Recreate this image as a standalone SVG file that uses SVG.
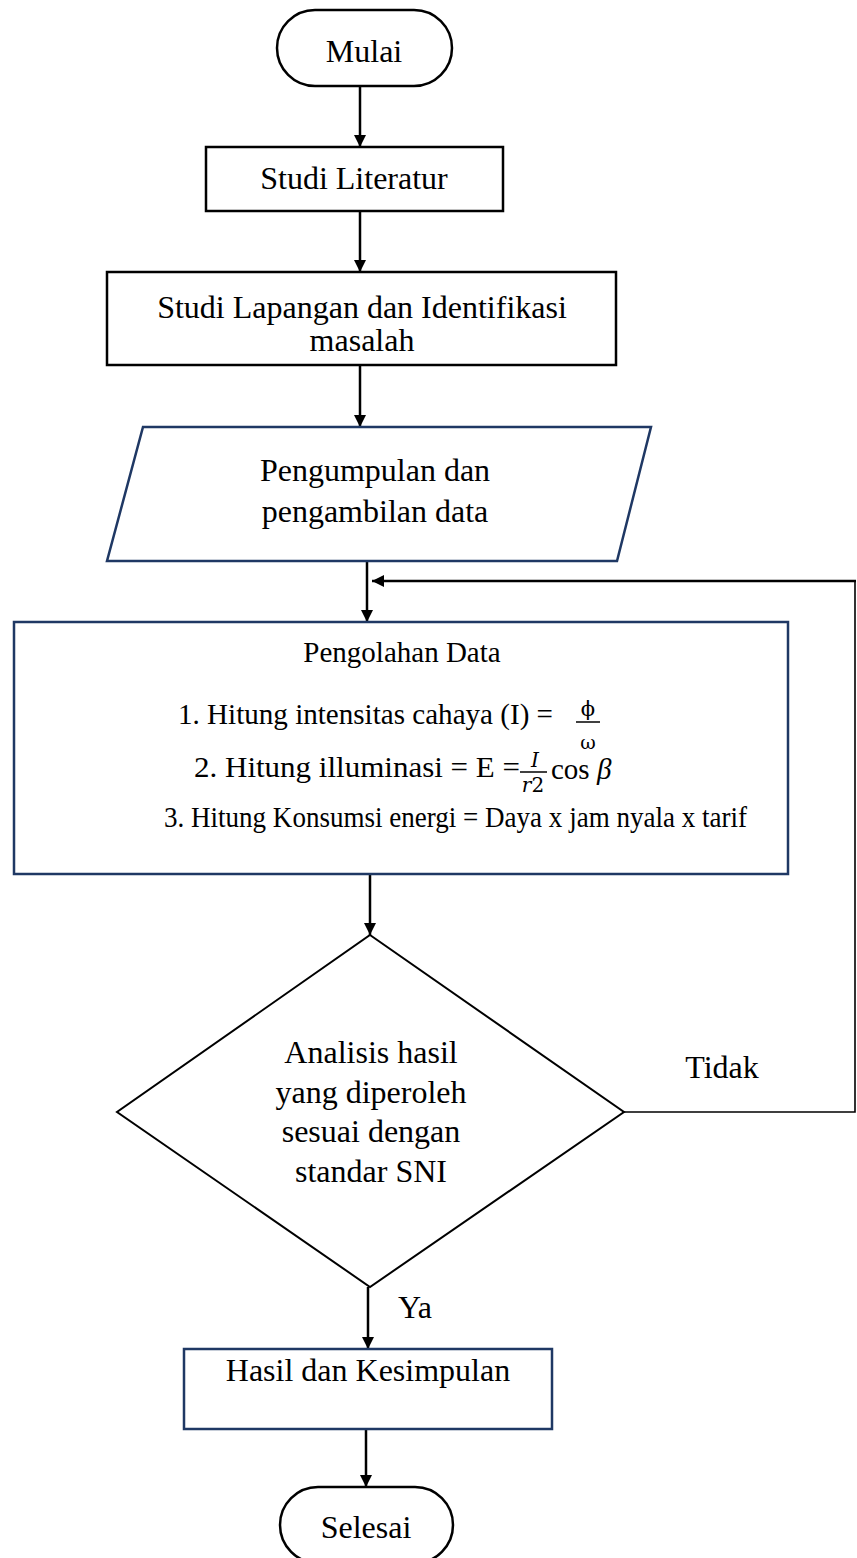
<svg xmlns="http://www.w3.org/2000/svg" width="857" height="1558" viewBox="0 0 857 1558">
<defs>
<marker id="arr" viewBox="0 0 10 10" refX="10" refY="5" markerWidth="12" markerHeight="13" markerUnits="userSpaceOnUse" orient="auto">
<path d="M0,0 L10,5 L0,10 z" fill="#000"/>
</marker>
<style>
.t{font-family:"Liberation Serif","Times New Roman",serif;font-size:32px;fill:#000;text-anchor:middle}
.s{font-family:"Liberation Serif","Times New Roman",serif;font-size:29px;fill:#000}
.m{font-family:"DejaVu Serif","Liberation Serif",serif;fill:#000}
.blk{fill:#fff;stroke:#000;stroke-width:2.5}
.nav{fill:#fff;stroke:#1F3864;stroke-width:2.5}
.c{fill:none;stroke:#000;stroke-width:2.5}
.thin{fill:none;stroke:#000;stroke-width:1.6}
</style>
</defs>
<rect width="857" height="1558" fill="#fff"/>
<g id="connectors">
<line class="c" x1="360" y1="86" x2="360" y2="147" marker-end="url(#arr)"/>
<line class="c" x1="360" y1="211" x2="360" y2="272" marker-end="url(#arr)"/>
<line class="c" x1="360" y1="365" x2="360" y2="427" marker-end="url(#arr)"/>
<line class="c" x1="367" y1="561" x2="367" y2="622" marker-end="url(#arr)"/>
<polyline class="thin" points="624,1112 855,1112 855,581"/>
<line class="c" x1="856" y1="581" x2="372" y2="581" marker-end="url(#arr)"/>
<line class="c" x1="370" y1="874" x2="370" y2="935" marker-end="url(#arr)"/>
<line class="c" x1="368" y1="1287" x2="368" y2="1349" marker-end="url(#arr)"/>
<line class="c" x1="366" y1="1429" x2="366" y2="1487" marker-end="url(#arr)"/>
<text class="t" x="415" y="1318">Ya</text>
<text class="t" x="722" y="1078">Tidak</text>
</g>
<g id="mulai">
<rect class="blk" x="277" y="10" width="175" height="76" rx="38" ry="38"/>
<text class="t" x="364" y="62">Mulai</text>
</g>
<g id="studi-literatur">
<rect class="blk" x="206" y="147" width="297" height="64"/>
<text class="t" x="354" y="189">Studi Literatur</text>
</g>
<g id="studi-lapangan">
<rect class="blk" x="107" y="272" width="509" height="93"/>
<text class="t" x="362" y="318">Studi Lapangan dan Identifikasi</text>
<text class="t" x="362" y="351">masalah</text>
</g>
<g id="pengumpulan">
<polygon class="nav" points="143,427 651,427 617,561 107,561"/>
<text class="t" x="375" y="481">Pengumpulan dan</text>
<text class="t" x="375" y="522">pengambilan data</text>
</g>
<g id="pengolahan">
<rect class="nav" x="14" y="622" width="774" height="252"/>
<text class="t" x="402" y="662" style="font-size:29px">Pengolahan Data</text>
<text class="s" x="178" y="724" textLength="375" lengthAdjust="spacingAndGlyphs">1.  Hitung intensitas cahaya (I) =</text>
<text class="m" x="588" y="716" text-anchor="middle" font-size="21">ϕ</text>
<line x1="576" y1="722" x2="600" y2="722" stroke="#000" stroke-width="1.5"/>
<text class="m" x="588" y="749" text-anchor="middle" font-size="19">ω</text>
<text class="s" x="194" y="777" textLength="326" lengthAdjust="spacingAndGlyphs">2.  Hitung illuminasi = E =</text>
<text class="m" x="535" y="767" text-anchor="middle" font-size="20" font-style="italic">I</text>
<line x1="520" y1="772" x2="547" y2="772" stroke="#000" stroke-width="1.5"/>
<text class="m" x="533" y="792" text-anchor="middle" font-size="20"><tspan font-style="italic">r</tspan>2</text>
<text class="s" x="551" y="779">cos <tspan font-style="italic">β</tspan></text>
<text class="s" x="164" y="827" textLength="583" lengthAdjust="spacingAndGlyphs">3.  Hitung Konsumsi energi = Daya x jam nyala x tarif</text>
</g>
<g id="analisis">
<polygon class="blk" points="370,935 624,1112 370,1287 117,1112" style="stroke-width:2"/>
<text class="t" x="371" y="1063">Analisis hasil</text>
<text class="t" x="371" y="1103">yang diperoleh</text>
<text class="t" x="371" y="1142">sesuai dengan</text>
<text class="t" x="371" y="1182">standar SNI</text>
</g>
<g id="hasil">
<rect class="nav" x="184" y="1349" width="368" height="80"/>
<text class="t" x="368" y="1381">Hasil dan Kesimpulan</text>
</g>
<g id="selesai">
<rect class="blk" x="280" y="1487" width="173" height="76" rx="38" ry="38"/>
<text class="t" x="366" y="1538">Selesai</text>
</g>
</svg>
